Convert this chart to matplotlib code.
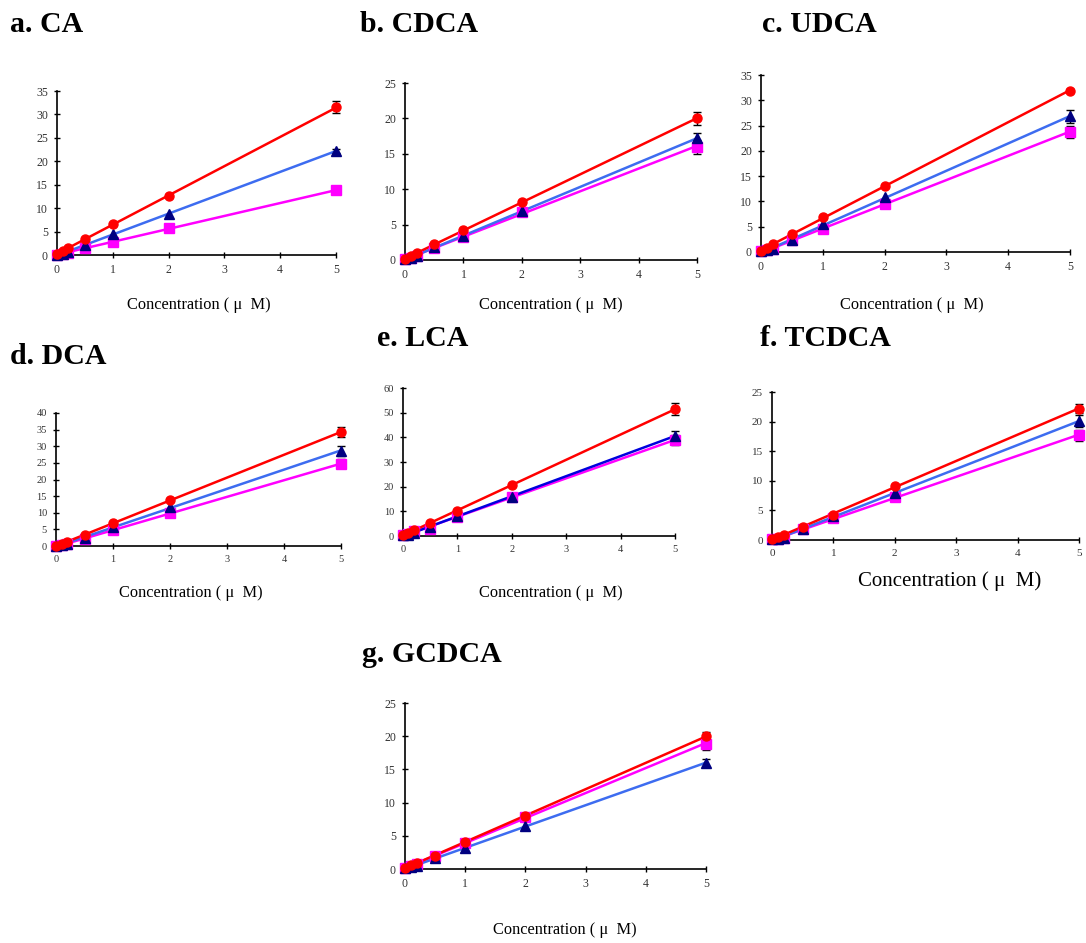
import numpy as np
import matplotlib
matplotlib.use("Agg")
from matplotlib import pyplot as plt

plt.rcParams['font.family'] = ['Liberation Serif', 'DejaVu Serif']

conc = [0, 0.1, 0.2, 0.5, 1, 2, 5]

panels = ["a. CA", "b. CDCA", "c. UDCA", "d. DCA", "e. LCA", "f. TCDCA", "g. GCDCA"]
y_max = [35, 25, 35, 40, 60, 25, 25]
y_step = [5, 5, 5, 5, 10, 5, 5]

red_vals = [
    [0.3, 0.8, 1.5, 3.4, 6.6, 12.5, 31.5],
    [0.2, 0.5, 1.0, 2.2, 4.2, 8.2, 20.0],
    [0.2, 0.8, 1.6, 3.5, 7.0, 13.1, 31.9],
    [0.1, 0.6, 1.3, 3.3, 6.9, 13.7, 34.3],
    [0.5, 1.2, 2.3, 5.3, 10.1, 20.5, 51.5],
    [0.1, 0.5, 0.9, 2.2, 4.3, 9.1, 22.2],
    [0.2, 0.6, 0.9, 2.0, 4.0, 8.0, 20.0],
]
red_err = [1.3, 0.9, 0.3, 1.6, 2.5, 0.8, 0.6]

navy_vals = [
    [0.1, 0.3, 0.6, 2.2, 4.4, 8.8, 22.2],
    [0.1, 0.3, 0.6, 1.8, 3.4, 6.9, 17.2],
    [0.1, 0.3, 0.5, 2.4, 5.5, 10.8, 26.8],
    [0.1, 0.3, 0.6, 2.4, 5.8, 11.8, 28.6],
    [0.3, 0.6, 1.2, 3.6, 8.1, 16.0, 40.6],
    [0.1, 0.2, 0.4, 1.9, 4.0, 7.9, 20.1],
    [0.1, 0.3, 0.5, 1.6, 3.1, 6.5, 16.0],
]
navy_err = [0.4, 0.8, 1.2, 1.5, 2.0, 1.0, 0.6]

mag_vals = [
    [0.1, 0.3, 0.5, 1.5, 2.8, 5.7, 13.8],
    [0.1, 0.3, 0.6, 1.7, 3.3, 6.8, 16.0],
    [0.1, 0.3, 0.5, 2.3, 4.6, 9.5, 23.8],
    [0.1, 0.3, 0.5, 2.2, 4.7, 9.8, 24.8],
    [0.3, 0.8, 2.1, 3.0, 7.9, 15.7, 39.0],
    [0.1, 0.2, 0.4, 1.8, 3.7, 7.3, 17.7],
    [0.2, 0.5, 0.8, 1.9, 3.9, 7.9, 18.9],
]
mag_err = [0.5, 1.0, 1.2, 1.4, 2.0, 0.9, 1.0]

# axes boxes in pixels: left, top, right, bottom
boxes = [(57, 91, 336, 255), (405, 83, 697, 260), (761, 75, 1070, 252),
         (56, 413, 341, 546), (403, 388, 675, 536), (772, 392, 1079, 540),
         (405, 703, 706, 869)]
titles_xy = [(10, 25), (360, 25), (762, 25), (10, 357), (377, 338), (760, 338), (362, 655)]
label_xy = [(199, 305, 11.8), (551, 305, 11.8), (912, 305, 11.8), (191, 593, 11.8),
            (551, 593, 11.8), (950, 581, 15), (565, 930, 11.8)]
tick_fs = [8.5, 8.5, 8.5, 7.5, 7.5, 8, 8.5]

W, H = 1086, 943
fig = plt.figure(figsize=(W / 100, H / 100), dpi=100)

for i, name in enumerate(panels):
    l, t, r, b = boxes[i]
    ax = fig.add_axes([l / W, 1 - b / H, (r - l) / W, (b - t) / H])
    x = np.array(conc)
    blue_line = '#0000dd' if i == 4 else '#3d6cf0'
    series = [
        (mag_vals[i], mag_err[i], 's', '#ff00ff', '#ff00ff'),
        (navy_vals[i], navy_err[i], '^', '#000080', blue_line),
        (red_vals[i], red_err[i], 'o', '#ff0000', '#ff0000'),
    ]
    for vals, err, mk, mcol, lcol in series:
        y = np.array(vals)
        slope, icpt = np.polyfit(x, y, 1)
        xs = np.array([x[1], x[-1]])
        ax.plot(xs, slope * xs + icpt, color=lcol, lw=1.8, zorder=2)
        ax.errorbar(x[-1], y[-1], yerr=err, fmt='none', ecolor='black',
                    elinewidth=1, capsize=3, zorder=3, clip_on=False)
        ax.plot(x, y, mk, color=mcol, markersize=6.5, zorder=4, clip_on=False)

    ax.set_xlim(0, 5)
    ax.set_ylim(0, y_max[i])
    ax.set_xticks([0, 1, 2, 3, 4, 5])
    ax.set_yticks(np.arange(0, y_max[i] + 1, y_step[i]))
    for s in ['top', 'right']:
        ax.spines[s].set_visible(False)
    for s in ['left', 'bottom']:
        ax.spines[s].set_linewidth(1.2)
    ax.tick_params(direction='inout', length=5, width=1, labelsize=tick_fs[i],
                   labelcolor='#333333', pad=4)

    tx, ty = titles_xy[i]
    fig.text(tx / W, 1 - ty / H, name, fontsize=21.5, fontweight='bold',
             ha='left', va='center')
    lx, ly, lfs = label_xy[i]
    fig.text(lx / W, 1 - ly / H, "Concentration ( \u03bc  M)", fontsize=lfs,
             ha='center', va='center')

fig.savefig("out.png", dpi=100)
